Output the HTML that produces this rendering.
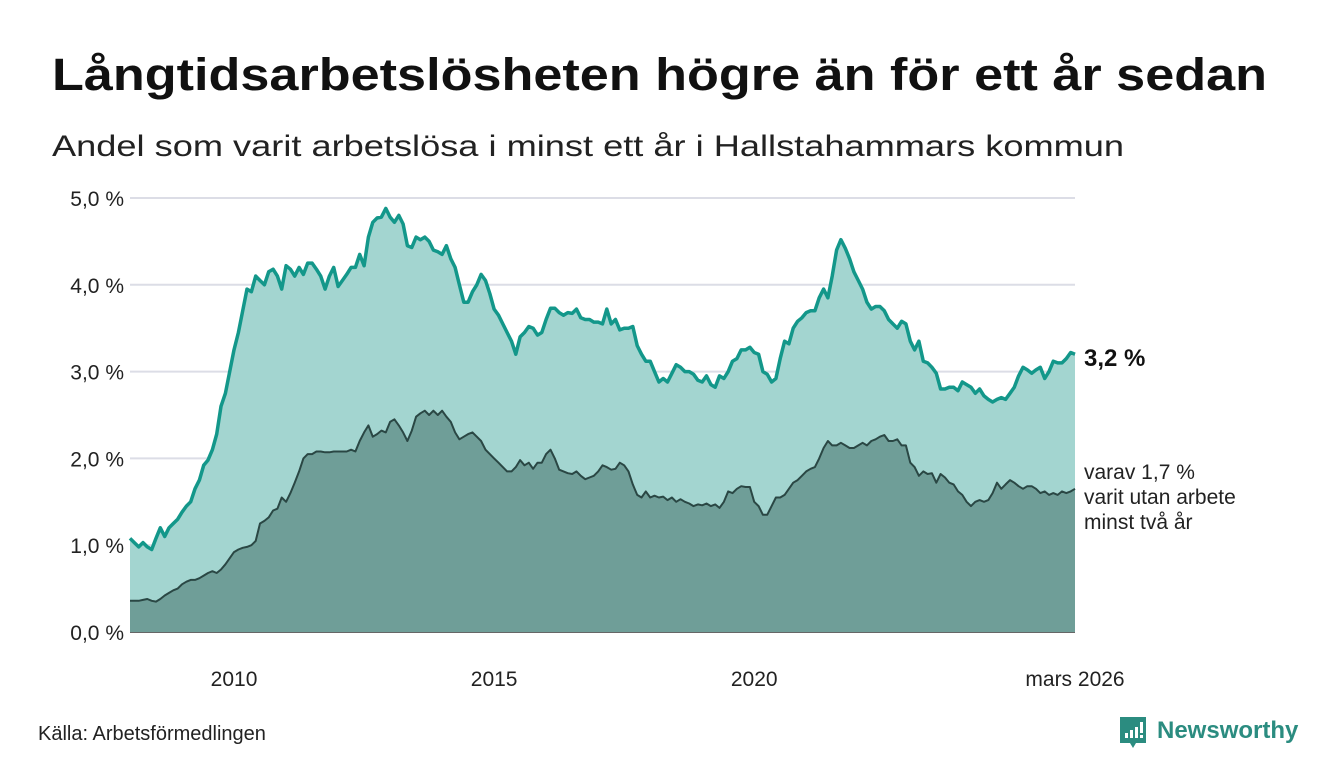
<!DOCTYPE html>
<html><head><meta charset="utf-8"><style>
html,body{margin:0;padding:0;background:#fff;}
svg{display:block;font-family:"Liberation Sans","DejaVu Sans",sans-serif;}
</style></head><body>
<svg id="chart" width="1340" height="780" viewBox="0 0 1340 780">
<text x="52" y="90" font-size="45" font-weight="bold" fill="#111" textLength="1215" lengthAdjust="spacingAndGlyphs">Långtidsarbetslösheten högre än för ett år sedan</text>
<text x="52" y="156" font-size="30" fill="#222" textLength="1072" lengthAdjust="spacingAndGlyphs">Andel som varit arbetslösa i minst ett år i Hallstahammars kommun</text>
<g id="grid"></g>
<g id="areas"></g>
<g id="yaxis"></g>
<g id="xaxis"></g>
<text x="1084" y="366" font-size="24" font-weight="bold" fill="#111">3,2 %</text>
<g font-size="21" fill="#222">
<text x="1084" y="479">varav 1,7 %</text>
<text x="1084" y="504">varit utan arbete</text>
<text x="1084" y="529">minst två år</text>
</g>
<text x="38" y="740" font-size="20" fill="#222">Källa: Arbetsförmedlingen</text>
<g>
<path d="M1120 717 h26 v26 h-10 l-3 5 l-3 -5 h-10 z" fill="#2b8c80"/>
<rect x="1125" y="733" width="3" height="5" fill="#fff"/><rect x="1130" y="730" width="3" height="8" fill="#fff"/><rect x="1135" y="727" width="3" height="11" fill="#fff"/><rect x="1140" y="722" width="3" height="11" fill="#fff"/><rect x="1140" y="735" width="3" height="3" fill="#fff"/>
<text x="1157" y="738" font-size="24" font-weight="bold" fill="#2b8c80">Newsworthy</text>
</g>
</svg>
<script>
const startYear = 2008;
const totalValues = [
1.08,1.03,0.98,1.03,0.98,0.95,1.08,1.2,1.1,1.2,1.25,1.3,
1.38,1.45,1.5,1.65,1.75,1.92,1.98,2.1,2.28,2.6,2.75,3.0,
3.25,3.45,3.7,3.95,3.92,4.1,4.05,4.0,4.15,4.18,4.1,3.95,
4.22,4.18,4.1,4.2,4.12,4.25,4.25,4.18,4.1,3.95,4.1,4.2,
3.98,4.05,4.12,4.2,4.2,4.35,4.22,4.55,4.72,4.77,4.78,4.88,
4.78,4.72,4.8,4.7,4.45,4.43,4.55,4.52,4.55,4.5,4.4,4.38,
4.35,4.45,4.3,4.2,4.0,3.8,3.8,3.92,4.0,4.12,4.05,3.9,
3.72,3.65,3.55,3.45,3.35,3.2,3.4,3.45,3.52,3.5,3.42,3.45,
3.6,3.73,3.73,3.68,3.65,3.68,3.67,3.72,3.62,3.6,3.6,3.57,
3.57,3.55,3.72,3.55,3.6,3.48,3.5,3.5,3.52,3.3,3.2,3.12,
3.12,3.0,2.88,2.92,2.88,2.98,3.08,3.05,3.0,3.0,2.97,2.9,
2.88,2.95,2.85,2.82,2.95,2.92,3.0,3.12,3.15,3.25,3.25,3.28,
3.22,3.2,3.0,2.97,2.88,2.92,3.15,3.35,3.32,3.5,3.58,3.62,
3.68,3.7,3.7,3.85,3.95,3.85,4.1,4.4,4.52,4.42,4.3,4.15,
4.05,3.95,3.8,3.72,3.75,3.75,3.7,3.6,3.55,3.5,3.58,3.55,
3.35,3.25,3.35,3.12,3.1,3.05,2.98,2.8,2.8,2.82,2.82,2.78,
2.88,2.85,2.82,2.75,2.8,2.72,2.68,2.65,2.68,2.7,2.68,2.75,
2.82,2.95,3.05,3.02,2.98,3.02,3.05,2.92,3.0,3.12,3.1,3.1,
3.15,3.22,3.2];
const longValues = [
.36,.36,.36,.37,.38,.36,.35,.38,.42,.45,.48,.5,
.55,.58,.6,.6,.62,.65,.68,.7,.68,.72,.78,.85,
.92,.95,.97,.98,1.0,1.05,1.25,1.28,1.32,1.4,1.42,1.55,
1.5,1.6,1.72,1.85,2.0,2.05,2.05,2.08,2.08,2.07,2.07,2.08,
2.08,2.08,2.08,2.1,2.08,2.2,2.3,2.38,2.25,2.28,2.32,2.3,
2.42,2.45,2.38,2.3,2.2,2.32,2.48,2.52,2.55,2.5,2.55,2.5,
2.55,2.48,2.42,2.3,2.22,2.25,2.28,2.3,2.25,2.2,2.1,2.05,
2.0,1.95,1.9,1.85,1.85,1.9,1.98,1.92,1.95,1.88,1.95,1.95,
2.05,2.1,2.0,1.87,1.85,1.83,1.82,1.85,1.8,1.76,1.78,1.8,
1.85,1.92,1.9,1.87,1.88,1.95,1.92,1.85,1.7,1.58,1.55,1.62,
1.55,1.57,1.55,1.56,1.52,1.55,1.5,1.53,1.5,1.48,1.45,1.47,
1.46,1.48,1.45,1.47,1.43,1.5,1.62,1.6,1.65,1.68,1.67,1.67,
1.5,1.45,1.35,1.35,1.45,1.55,1.55,1.58,1.65,1.72,1.75,1.8,
1.85,1.88,1.9,2.0,2.12,2.2,2.15,2.15,2.18,2.15,2.12,2.12,
2.15,2.18,2.15,2.2,2.22,2.25,2.27,2.2,2.2,2.22,2.15,2.15,
1.95,1.9,1.8,1.85,1.82,1.83,1.72,1.82,1.78,1.72,1.7,1.62,
1.58,1.5,1.45,1.5,1.52,1.5,1.52,1.6,1.72,1.65,1.7,1.75,
1.72,1.68,1.65,1.68,1.68,1.65,1.6,1.62,1.58,1.6,1.58,1.62,
1.6,1.62,1.65];
const yTicks = [0,1,2,3,4,5];
const yTickLabels = ["0,0 %","1,0 %","2,0 %","3,0 %","4,0 %","5,0 %"];
const xTickYears = [2010,2015,2020];
const xEndLabel = "mars 2026";

const X0=130, X1=1075, Y0=632, Y5=198;
const n = totalValues.length;
const xs = i => X0 + (X1-X0)*i/(n-1);
const xYear = y => xs((y-startYear)*12);
const ys = v => Y0 - (Y0-Y5)*v/5;
const NS="http://www.w3.org/2000/svg";
function mk(tag, attrs, parent){const e=document.createElementNS(NS,tag);for(const k in attrs)e.setAttribute(k,attrs[k]);parent.appendChild(e);return e;}

const grid=document.getElementById('grid'), yaxis=document.getElementById('yaxis'), xaxis=document.getElementById('xaxis'), areas=document.getElementById('areas');
yTicks.forEach((t,i)=>{
  const l=mk('line',{x1:X0,x2:X1,y1:ys(t),y2:ys(t),stroke:t===0?'#333':'#dcdde6','stroke-width':t===0?1.5:2},grid);
  
  
  const tx=mk('text',{x:124,y:ys(t)+8,'text-anchor':'end','font-size':21,fill:'#222'},yaxis);
  tx.textContent=yTickLabels[i];
  
  
});
xTickYears.forEach(yr=>{
  const tx=mk('text',{x:xYear(yr),y:686,'text-anchor':'middle','font-size':21,fill:'#222'},xaxis);
  tx.textContent=String(yr);
  
  
});
const te=mk('text',{x:X1,y:686,'text-anchor':'middle','font-size':21,fill:'#222'},xaxis);
te.textContent=xEndLabel;



function linePts(vals){return vals.map((v,i)=>xs(i).toFixed(1)+','+ys(v).toFixed(1)).join(' L');}
function areaD(vals){return 'M'+X0+','+Y0+' L'+linePts(vals)+' L'+X1+','+Y0+' Z';}
const a1=mk('path',{d:areaD(totalValues),fill:'#a3d5d0'},areas);


const a2=mk('path',{d:areaD(longValues),fill:'#6f9e98'},areas);


const l2=mk('path',{d:'M'+linePts(longValues),fill:'none',stroke:'#2a4744','stroke-width':2,'stroke-linejoin':'round'},areas);


const l1=mk('path',{d:'M'+linePts(totalValues),fill:'none',stroke:'#13978a','stroke-width':3.5,'stroke-linejoin':'round'},areas);


</script>
</body></html>
